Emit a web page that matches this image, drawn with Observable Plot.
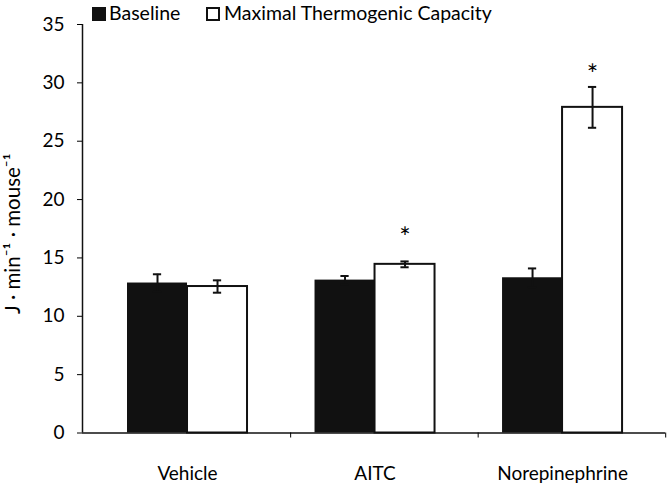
<!DOCTYPE html>
<html>
<head>
<meta charset="utf-8">
<script src="https://cdn.jsdelivr.net/npm/d3@7"></script>
<script src="https://cdn.jsdelivr.net/npm/@observablehq/plot@0.6"></script>
<style>
  html, body { margin: 0; padding: 0; background: #fff; }
  #wrap { position: relative; width: 669px; height: 486px; font-family: Lato, "Open Sans", sans-serif; }
  #legend { position: absolute; top: 0; left: 0; width: 669px; height: 28px; font-size: 19.5px; color: #000; }
  .sw { position: absolute; top: 7px; width: 14px; height: 14px; box-sizing: border-box; }
  .lab { position: absolute; top: 1px; line-height: 24px; white-space: nowrap; }
</style>
</head>
<body>
<div id="wrap">
  <div id="chart"></div>
  <div id="legend"></div>
</div>
<script>
// ---- data ----
const categories = ["Vehicle", "AITC", "Norepinephrine"];
const seriesNames = ["Baseline", "Maximal Thermogenic Capacity"];
const baselineValues = [12.85, 13.1, 13.3];
const baselineErrors = [0.75, 0.35, 0.8];
const maximalValues = [12.55, 14.45, 27.9];
const maximalErrors = [0.53, 0.25, 1.75];
const significance = ["", "*", "*"];
const starLevels = [null, 17.3, 31.2];
const yTicks = [0, 5, 10, 15, 20, 25, 30, 35];
const categoryTicks = [0.55, 1.55, 2.55];
const yLabel = "J · min⁻¹ · mouse⁻¹";

// ---- layout constants ----
const barW = 0.32;
const capHalf = 0.022;
const xDomain = [-0.56, 2.549];

const rows = [];
categories.forEach((c, i) => {
  rows.push({cat: c, i, series: seriesNames[0], value: baselineValues[i], err: baselineErrors[i], x1: i - barW, x2: i});
  rows.push({cat: c, i, series: seriesNames[1], value: maximalValues[i], err: maximalErrors[i], x1: i, x2: i + barW});
});
rows.forEach(d => { d.xc = (d.x1 + d.x2) / 2; d.lo = d.value - d.err; d.hi = d.value + d.err; });
const baseRows = rows.filter(d => d.series === seriesNames[0]);
const maxRows = rows.filter(d => d.series === seriesNames[1]);
const stars = categories.map((c, i) => ({i, x: i + barW / 2, y: starLevels[i], t: significance[i]})).filter(d => d.t);

const fontSize = 19;

const chart = Plot.plot({
  width: 669,
  height: 486,
  marginLeft: 82,
  marginRight: 4,
  marginTop: 24,
  marginBottom: 53.5,
  style: {fontFamily: "Lato, 'Open Sans', sans-serif", fontSize: fontSize + "px", color: "#000", background: "#fff"},
  x: {type: "linear", domain: xDomain},
  y: {domain: [0, 35]},
  marks: [
    Plot.rectY(maxRows, {x1: "x1", x2: "x2", y1: 0, y2: "value", fill: "#fff", stroke: "#111", strokeWidth: 2}),
    Plot.rectY(baseRows, {x1: "x1", x2: "x2", y1: 0, y2: "value", fill: "#111"}),
    Plot.ruleX(rows, {x: "xc", y1: "lo", y2: "hi", stroke: "#111", strokeWidth: 2}),
    Plot.ruleY(rows, {y: "hi", x1: d => d.xc - capHalf, x2: d => d.xc + capHalf, stroke: "#111", strokeWidth: 2}),
    Plot.ruleY(rows, {y: "lo", x1: d => d.xc - capHalf, x2: d => d.xc + capHalf, stroke: "#111", strokeWidth: 2}),
    Plot.text(stars, {x: "x", y: "y", text: "t", fontSize: 27, lineAnchor: "middle", dy: 7}),
    Plot.ruleY([0], {stroke: "#111", strokeWidth: 1.5}),
    Plot.ruleX([xDomain[0]], {y1: 0, y2: 35, stroke: "#111", strokeWidth: 1.5}),
    Plot.axisY({ticks: yTicks, tickSize: 5, tickPadding: 13, tickFormat: d => d, label: null, fontSize: fontSize}),
    Plot.axisX({ticks: categoryTicks, tickSize: 5, tickFormat: () => "", label: null}),
    Plot.axisX({ticks: categories.map((c, i) => i), tickSize: 0, tickPadding: 33, tickFormat: i => categories[i], label: null, fontSize: fontSize}),
    Plot.text([yLabel], {frameAnchor: "left", rotate: -90, textAnchor: "middle", dx: -69, dy: 5, fontSize: 20.5})
  ]
});
document.getElementById("chart").appendChild(chart);

// ---- legend ----
const legend = document.getElementById("legend");
const legendItems = [
  {name: seriesNames[0], fill: "#111", border: "none", swLeft: 92, textLeft: 109},
  {name: seriesNames[1], fill: "#fff", border: "2px solid #111", swLeft: 206, textLeft: 224}
];
legendItems.forEach(it => {
  const sw = document.createElement("div");
  sw.className = "sw";
  sw.style.left = it.swLeft + "px";
  sw.style.background = it.fill;
  sw.style.border = it.border;
  legend.appendChild(sw);
  const lab = document.createElement("div");
  lab.className = "lab";
  lab.style.left = it.textLeft + "px";
  lab.textContent = it.name;
  legend.appendChild(lab);
});
</script>
</body>
</html>
